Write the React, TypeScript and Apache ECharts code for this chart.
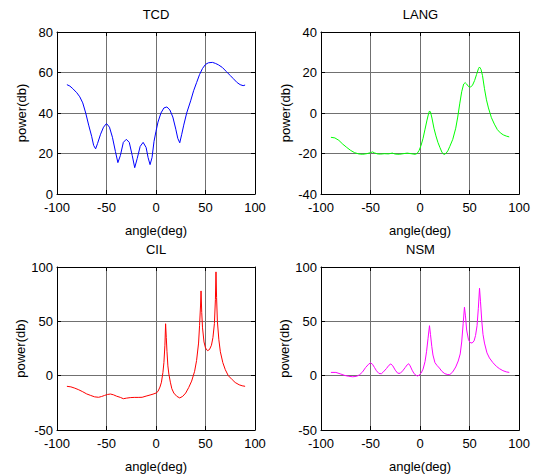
import React, { useEffect, useRef } from "react";
import * as echarts from "echarts";

// ---- data ----
const titles = ["TCD", "LANG", "CIL", "NSM"];
const xTicks = [-100, -50, 0, 50, 100];

const tcdAngles = [-90, -87, -84, -80, -77, -74, -71, -68, -65, -63, -61, -59, -56, -53, -50, -47, -44, -41, -38.5, -36, -33, -30, -27, -24, -21.5, -19, -16, -13, -10, -8, -6, -4, -2, 0, 2, 5, 8, 11, 14, 17, 20, 22, 24, 26, 28, 31, 35, 38, 41, 44, 47, 50, 53, 57, 60, 63, 67, 71, 75, 78, 82, 85, 88, 90];
const tcdValues = [54, 53.3, 52, 50, 48, 45, 40, 34, 28.5, 24, 22.3, 25, 29.5, 33, 34.8, 33, 28, 21, 15.5, 19, 25.5, 27, 25.5, 19, 13, 17.5, 23.5, 25.5, 23, 18, 14.5, 18, 26, 31, 35.5, 40, 42.5, 43, 41.5, 38, 32, 27.5, 25.3, 29.5, 34, 40, 46, 51, 55, 59, 62, 64, 64.8, 65, 64.5, 63.8, 62.5, 60.5, 58.5, 57, 55, 54, 53.5, 53.8];

const langAngles = [-90, -86, -82, -78, -74, -70, -66, -62, -58, -54, -50, -48, -46, -43, -40, -36, -32, -28, -25, -21, -17, -13, -9, -5, -3, -1, 1, 3, 5, 7, 8.5, 9.5, 10.5, 12, 14, 16, 18, 20, 22, 24, 26, 28, 30, 33, 36, 38, 40, 42, 44, 45.5, 47, 49, 51, 53, 55, 57, 59, 60, 61.5, 63, 65, 67, 69, 72, 75, 78, 81, 84, 87, 90];
const langValues = [-12, -12.3, -13.5, -15.4, -17, -18.5, -19.6, -20.2, -20.4, -20.1, -19.6, -19.2, -19.7, -20.2, -20.3, -20.1, -20.2, -19.8, -20.3, -20.4, -20.1, -19.8, -20.1, -20.4, -20, -18.5, -16, -12.5, -8, -3.5, -0.5, 1, 0.5, -2.5, -7.5, -11.3, -14.5, -17, -19.3, -20.5, -20, -18.7, -16.5, -13, -7.5, -2, 4.5, 10.5, 14.3, 15, 14.3, 13, 12.8, 13.8, 16, 19, 22, 22.7, 21.5, 18.5, 12, 6.5, 2.5, -2.3, -5.5, -8.2, -9.8, -10.8, -11.4, -11.8];

const cilAngles = [-90, -86, -82, -78, -74, -70, -66, -62, -58, -55, -52, -49, -46, -43, -40, -36, -33, -30, -26, -22, -18, -14, -10, -6, -3, 0, 2, 4, 5.5, 7, 8, 9, 9.7, 10.4, 11.1, 12, 13, 14.5, 16, 18, 21, 24, 27, 30, 33, 36, 39, 41, 43, 44, 45, 45.5, 46.2, 47, 48.5, 50, 52, 54, 56, 57.5, 59, 60, 60.6, 61.2, 62, 63.5, 65, 67.5, 70, 73, 77, 80, 84, 87, 90];
const cilValues = [-9.8, -10.3, -11.5, -13, -14.8, -16.8, -18.2, -19.5, -19.9, -19.2, -18.2, -17.3, -16.9, -17.6, -18.8, -20, -21.2, -20.7, -20.2, -20, -20, -19.9, -18.8, -17.8, -17, -16, -14.5, -10.5, -6, 3, 12, 28, 47.8, 35, 22, 9, 1.5, -6, -12, -16, -19, -20.5, -19, -16, -11, -5, 4, 14, 30, 46, 65, 78, 58, 44, 31, 25.5, 23, 24, 28, 35, 48, 70, 95.5, 72, 50, 33, 22, 12, 5.5, 0, -3.7, -6.3, -8.4, -9.3, -9.8];

const nsmAngles = [-90, -85, -80, -76, -72, -68, -64, -61, -58, -55, -52, -50, -48, -46, -44, -41.5, -39, -37, -34, -31.5, -29.5, -27.5, -25, -22.5, -20, -17.5, -15, -13, -11.5, -10, -8, -6, -4, -2.5, -1, 1, 3, 5, 6.5, 8, 9.5, 10.5, 11.8, 13, 15, 17, 19.5, 22, 25, 28, 30, 33, 36, 38.5, 40.5, 42, 43.5, 44.8, 45.8, 47, 48.9, 50.5, 52.5, 54.5, 56, 57.5, 58.8, 60, 61, 62.3, 63.5, 65, 67.5, 70, 73.5, 77, 80, 83.6, 87, 90];
const nsmValues = [3, 3, 1.5, 0.2, -0.6, -1, -0.6, 0.9, 3.5, 7.5, 10.5, 11.8, 10.5, 7.5, 4.5, 2, 1.8, 3.5, 6.5, 9.5, 10.8, 9, 5, 2.2, 2.2, 4.5, 7.5, 10, 11, 9, 5, 1.8, 0.3, -0.3, 0.5, 2.3, 6, 13, 22, 34, 46, 38, 27, 19, 12, 9.5, 7, 4, 1.8, 1, 1, 3.5, 8, 13.5, 20, 31, 48, 63, 55, 42, 33, 30.5, 30, 32, 37, 46, 62, 80.5, 68, 50, 38, 30, 21, 16.3, 12, 8.6, 6.5, 4.6, 3.5, 3];

const yRanges = [
  { min: 0, max: 80, interval: 20 },
  { min: -40, max: 40, interval: 20 },
  { min: -50, max: 100, interval: 50 },
  { min: -50, max: 100, interval: 50 },
];
const colors = ["#0000ff", "#00ff00", "#ff0000", "#ff00ff"];
const seriesAngles = [tcdAngles, langAngles, cilAngles, nsmAngles];
const seriesValues = [tcdValues, langValues, cilValues, nsmValues];

const FONT = "'Liberation Sans', Arial, sans-serif";

const grids = [
  { left: 57, top: 32, width: 198, height: 162 },
  { left: 321, top: 32, width: 199, height: 162 },
  { left: 57, top: 267, width: 198, height: 163 },
  { left: 321, top: 267, width: 199, height: 163 },
];

export default function App() {
  const ref = useRef<HTMLDivElement>(null);
  useEffect(() => {
    if (!ref.current) return;
    const chart = echarts.init(ref.current, undefined, { renderer: "svg" });
    const xAxes: any[] = [];
    const yAxes: any[] = [];
    const series: any[] = [];
    const titleArr: any[] = [];
    grids.forEach((g, i) => {
      titleArr.push({
        text: titles[i],
        left: g.left + g.width / 2,
        top: g.top - 24,
        textAlign: "center",
        padding: 0,
        textStyle: { fontFamily: FONT, fontSize: 13, fontWeight: "normal", color: "#000" },
      });
      const common = {
        gridIndex: i,
        axisLine: { show: true, onZero: false, lineStyle: { color: "#000", width: 1 } },
        axisTick: { show: true, inside: true, length: 4, lineStyle: { color: "#000" } },
      };
      xAxes.push({
        ...common,
        type: "value",
        position: "bottom",
        min: -100,
        max: 100,
        interval: 50,
        axisLabel: { fontFamily: FONT, fontSize: 13, lineHeight: 13, color: "#000", margin: 7, customValues: xTicks },
        splitLine: { show: true, lineStyle: { color: "#707070", width: 1 } },
        name: "angle(deg)",
        nameLocation: "middle",
        nameGap: 30,
        nameTextStyle: { fontFamily: FONT, fontSize: 13, color: "#000" },
      });
      xAxes.push({
        ...common,
        type: "value",
        position: "top",
        min: -100,
        max: 100,
        interval: 50,
        axisLabel: { show: false },
        splitLine: { show: false },
      });
      yAxes.push({
        ...common,
        type: "value",
        position: "left",
        min: yRanges[i].min,
        max: yRanges[i].max,
        interval: yRanges[i].interval,
        axisLabel: { fontFamily: FONT, fontSize: 13, lineHeight: 13, color: "#000", margin: 4, padding: [0, 0, 4, 0] },
        splitLine: { show: true, lineStyle: { color: "#707070", width: 1 } },
        name: "power(db)",
        nameLocation: "middle",
        nameRotate: 90,
        nameGap: 29,
        nameTextStyle: { fontFamily: FONT, fontSize: 13, color: "#000" },
      });
      yAxes.push({
        ...common,
        type: "value",
        position: "right",
        min: yRanges[i].min,
        max: yRanges[i].max,
        interval: yRanges[i].interval,
        axisLabel: { show: false },
        splitLine: { show: false },
      });
      series.push({
        type: "line",
        xAxisIndex: i * 2,
        yAxisIndex: i * 2,
        data: seriesAngles[i].map((a, k) => [a, seriesValues[i][k]]),
        showSymbol: false,
        symbol: "none",
        lineStyle: { color: colors[i], width: 1 },
        itemStyle: { color: colors[i] },
        z: 5,
      });
    });
    chart.setOption({
      animation: false,
      backgroundColor: "#fff",
      title: titleArr,
      grid: grids.map((g) => ({ ...g, containLabel: false })),
      xAxis: xAxes,
      yAxis: yAxes,
      series,
    });
    return () => chart.dispose();
  }, []);
  return (
    <div
      ref={ref}
      style={{ position: "fixed", left: 0, top: 0, width: 533, height: 476, background: "#fff" }}
    />
  );
}
